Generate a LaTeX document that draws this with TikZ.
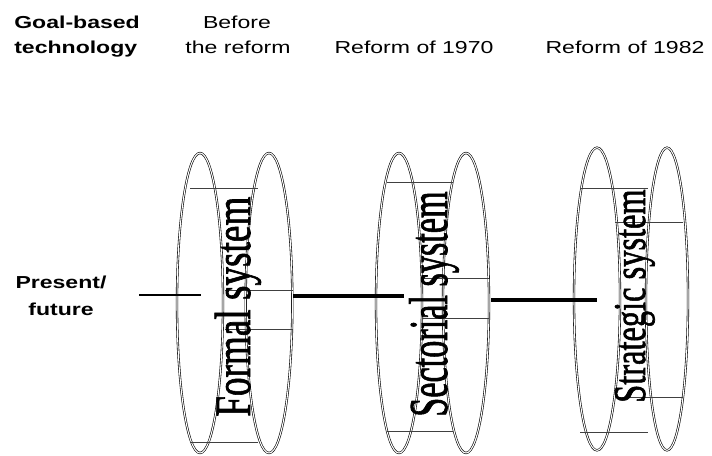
\documentclass[tikz,border=0pt]{standalone}
\usepackage{fontspec}
\setmainfont{Liberation Serif}
\newfontfamily\sysfont[FakeBold=1.6]{Liberation Serif}
\newfontfamily\arialf{Liberation Sans}
\usetikzlibrary{shapes.geometric}
\tikzset{
  hdr/.style={font=\arialf\fontsize{13}{15}\selectfont, inner sep=0pt, anchor=base},
  hdrb/.style={hdr, font=\arialf\bfseries\fontsize{13}{15}\selectfont},
  ring/.style={draw, double, double distance=0.8pt, line width=0.45pt, ellipse, inner sep=0pt},
  band/.style={draw=black!75, line width=0.5pt},
  connthin/.style={line width=1.6pt},
  connthick/.style={line width=2.3pt},
  sysname/.style={rotate=90, anchor=base west, inner sep=0pt, font=\sysfont},
}
\newcommand{\hs}[1]{\scalebox{1.33}[1]{#1}}
\begin{document}
\begin{tikzpicture}[x=0.75pt, y=-0.75pt]
\useasboundingbox (0,0) rectangle (712,455);
% headers
\node[hdrb, anchor=base west] (h1a) at (14,28) {\hs{Goal-based}};
\node[hdrb, anchor=base west] (h1b) at (14,53) {\hs{technology}};
\node[hdr] (h2a) at (237,28) {\hs{Before}};
\node[hdr] (h2b) at (238,53) {\hs{the reform}};
\node[hdr] (h3) at (414,53) {\hs{Reform of 1970}};
\node[hdr] (h4) at (625,53) {\hs{Reform of 1982}};
\node[hdrb] (pf1) at (61,288) {\hs{Present/}};
\node[hdrb] (pf2) at (61,315) {\hs{future}};

% group 1
\node[ring, minimum width=34.5pt, minimum height=225pt] (g1l) at (200,303) {};
\node[ring, minimum width=35pt, minimum height=225pt] (g1r) at (269,303) {};
\draw[band] (190,188) -- (258,188);
\draw[band] (190,442) -- (258,442);
\draw[band] (225,290) -- (293,290);
\draw[band] (225,329) -- (293,329);

% group 2
\node[ring, minimum width=34.5pt, minimum height=225pt] (g2l) at (399,303) {};
\node[ring, minimum width=34.5pt, minimum height=225pt] (g2r) at (466,303) {};
\draw[band] (387,182) -- (453,182);
\draw[band] (387,431) -- (453,431);
\draw[band] (422,278) -- (489,278);
\draw[band] (422,318) -- (489,318);

% group 3
\node[ring, minimum width=34.5pt, minimum height=227pt] (g3l) at (597,299) {};
\node[ring, minimum width=31.5pt, minimum height=227pt] (g3r) at (667,299) {};
\draw[band] (580,188) -- (648,188);
\draw[band] (580,432) -- (648,432);
\draw[band] (615,222) -- (683,222);
\draw[band] (615,397) -- (683,397);

% connectors
\coordinate (c0s) at (139,295);
\coordinate (c0e) at (201,295);
\coordinate (c1s) at (293,296);
\coordinate (c1e) at (404,296);
\coordinate (c2s) at (491,300);
\coordinate (c2e) at (597,300);
\draw[connthin] (c0s) -- (c0e);
\draw[connthick] (c1s) -- (c1e);
\draw[connthick] (c2s) -- (c2e);

% system names
\node[sysname] (t1) at (250,417) {\resizebox{165pt}{26.5pt}{Formal system}};
\node[sysname] (t2) at (447,417) {\resizebox{169pt}{28.5pt}{Sectorial system}};
\node[sysname] (t3) at (645,403) {\resizebox{160pt}{22.5pt}{Strategic system}};
\end{tikzpicture}
\end{document}
